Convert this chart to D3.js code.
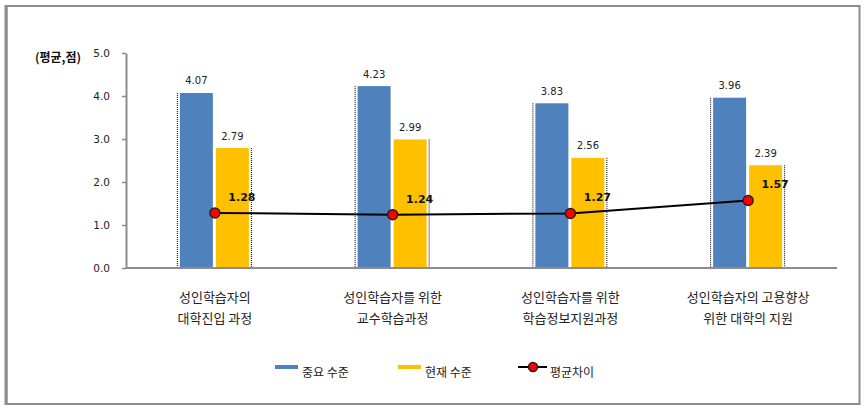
<!DOCTYPE html>
<html><head><meta charset="utf-8">
<script src="https://cdn.jsdelivr.net/npm/d3@7"></script>
<style>body{margin:0;background:#fff;} svg{display:block;}</style>
</head><body>
<svg id="chart" width="866" height="411"></svg>
<script>
const categories = [
  ["성인학습자의", "대학진입 과정"],
  ["성인학습자를 위한", "교수학습과정"],
  ["성인학습자를 위한", "학습정보지원과정"],
  ["성인학습자의 고용향상", "위한 대학의 지원"]
];
const importance = [4.07, 4.23, 3.83, 3.96];
const current = [2.79, 2.99, 2.56, 2.39];
const gap = [1.28, 1.24, 1.27, 1.57];
const yTicks = [0, 1, 2, 3, 4, 5];
const seriesNames = ["중요 수준", "현재 수준", "평균차이"];
const colors = {blue: "#4F81BD", yellow: "#FFC000", red: "#FF0000"};

const svg = d3.select("#chart");
const KR = "'Noto Sans CJK KR', sans-serif";
const NUM = "'DejaVu Sans', sans-serif";

// frame
svg.append("rect").attr("x", 6.5).attr("y", 6).attr("width", 853).attr("height", 398)
  .attr("fill", "none").attr("stroke", "#8c8c8c").attr("stroke-width", 2);
svg.append("line").attr("x1", 6).attr("x2", 6).attr("y1", 5).attr("y2", 405)
  .attr("stroke", "#8c8c8c").attr("stroke-width", 3);

const x = d3.scaleBand().domain(d3.range(categories.length)).range([126, 837]);
const y = d3.scaleLinear().domain([0, 5]).range([268, 53]);
const cx = i => x(i) + x.bandwidth() / 2;

// y axis
const yAxis = svg.append("g").attr("transform", "translate(126,0)")
  .call(d3.axisLeft(y).tickValues(yTicks).tickFormat(d3.format(".1f")).tickSize(4).tickSizeOuter(0));
yAxis.select(".domain").attr("stroke", "#8c8c8c").attr("stroke-width", 2);
yAxis.selectAll(".tick line").attr("stroke", "#8c8c8c").attr("stroke-width", 1.5);
yAxis.selectAll(".tick text").attr("x", -16).attr("font-family", NUM).attr("font-size", 10.5).attr("fill", "#222");

svg.append("text").attr("x", 35).attr("y", 62).attr("font-family", KR).attr("font-weight", "bold")
  .attr("font-size", 12).attr("fill", "#111").text("(평균,점)");

// bars
const bw = 33;
const g = svg.append("g");
g.selectAll(".b1").data(importance).join("rect")
  .attr("x", (d, i) => cx(i) - 35).attr("y", d => y(d)).attr("width", bw).attr("height", d => y(0) - y(d))
  .attr("fill", colors.blue);
g.selectAll(".b2").data(current).join("rect")
  .attr("x", (d, i) => cx(i) + 1).attr("y", d => y(d)).attr("width", bw).attr("height", d => y(0) - y(d))
  .attr("fill", colors.yellow);
// dotted edges
g.selectAll(".d1").data(importance).join("line")
  .attr("x1", (d, i) => cx(i) - 37.5).attr("x2", (d, i) => cx(i) - 37.5)
  .attr("y1", d => y(d)).attr("y2", y(0))
  .attr("stroke", "#000").attr("stroke-width", 1).attr("stroke-dasharray", "1,1");
g.selectAll(".d2").data(current).join("line")
  .attr("x1", (d, i) => cx(i) + 36.5).attr("x2", (d, i) => cx(i) + 36.5)
  .attr("y1", d => y(d)).attr("y2", y(0))
  .attr("stroke", "#000").attr("stroke-width", 1).attr("stroke-dasharray", "1,1");

// x axis line
svg.append("line").attr("x1", 126).attr("x2", 837).attr("y1", y(0)).attr("y2", y(0))
  .attr("stroke", "#8c8c8c").attr("stroke-width", 2);

// bar labels
g.selectAll(".l1").data(importance).join("text")
  .attr("x", (d, i) => cx(i) - 18.5).attr("y", d => y(d) - 12).attr("dy", "0.35em")
  .attr("text-anchor", "middle").attr("font-family", NUM).attr("font-size", 10).attr("fill", "#222")
  .text(d => d.toFixed(2));
g.selectAll(".l2").data(current).join("text")
  .attr("x", (d, i) => cx(i) + 17.5).attr("y", d => y(d) - 12).attr("dy", "0.35em")
  .attr("text-anchor", "middle").attr("font-family", NUM).attr("font-size", 10).attr("fill", "#222")
  .text(d => d.toFixed(2));

// line
const line = d3.line().x((d, i) => cx(i)).y(d => y(d));
svg.append("path").datum(gap).attr("d", line).attr("fill", "none").attr("stroke", "#000").attr("stroke-width", 2);
svg.selectAll(".mk").data(gap).join("circle")
  .attr("cx", (d, i) => cx(i)).attr("cy", d => y(d)).attr("r", 5)
  .attr("fill", colors.red).attr("stroke", "#222").attr("stroke-width", 1.5);
svg.selectAll(".gl").data(gap).join("text")
  .attr("x", (d, i) => cx(i) + 27).attr("y", d => y(d) - 16).attr("dy", "0.35em")
  .attr("text-anchor", "middle").attr("font-family", NUM).attr("font-weight", "bold")
  .attr("font-size", 11).attr("fill", "#111").text(d => d.toFixed(2));

// category labels
const cl = svg.selectAll(".cat").data(categories).join("text")
  .attr("text-anchor", "middle").attr("font-family", KR).attr("font-size", 13).attr("fill", "#222");
cl.each(function(d, i) {
  const t = d3.select(this);
  d.forEach((s, j) => t.append("tspan").attr("x", cx(i)).attr("y", 302 + j * 21).text(s));
});

// legend
const lg = svg.append("g");
const ly = 367;
lg.append("rect").attr("x", 275).attr("y", ly - 2).attr("width", 23).attr("height", 4).attr("fill", colors.blue);
lg.append("text").attr("x", 302).attr("y", ly + 10).attr("font-family", KR).attr("font-size", 12).attr("fill", "#222").text(seriesNames[0]);
lg.append("rect").attr("x", 398).attr("y", ly - 2).attr("width", 23).attr("height", 4).attr("fill", colors.yellow);
lg.append("text").attr("x", 425).attr("y", ly + 10).attr("font-family", KR).attr("font-size", 12).attr("fill", "#222").text(seriesNames[1]);
lg.append("line").attr("x1", 518).attr("x2", 547).attr("y1", ly).attr("y2", ly).attr("stroke", "#000").attr("stroke-width", 2);
lg.append("circle").attr("cx", 533).attr("cy", ly).attr("r", 4.5).attr("fill", colors.red).attr("stroke", "#222").attr("stroke-width", 1.5);
lg.append("text").attr("x", 550).attr("y", ly + 10).attr("font-family", KR).attr("font-size", 12).attr("fill", "#222").text(seriesNames[2]);
</script>
</body></html>
